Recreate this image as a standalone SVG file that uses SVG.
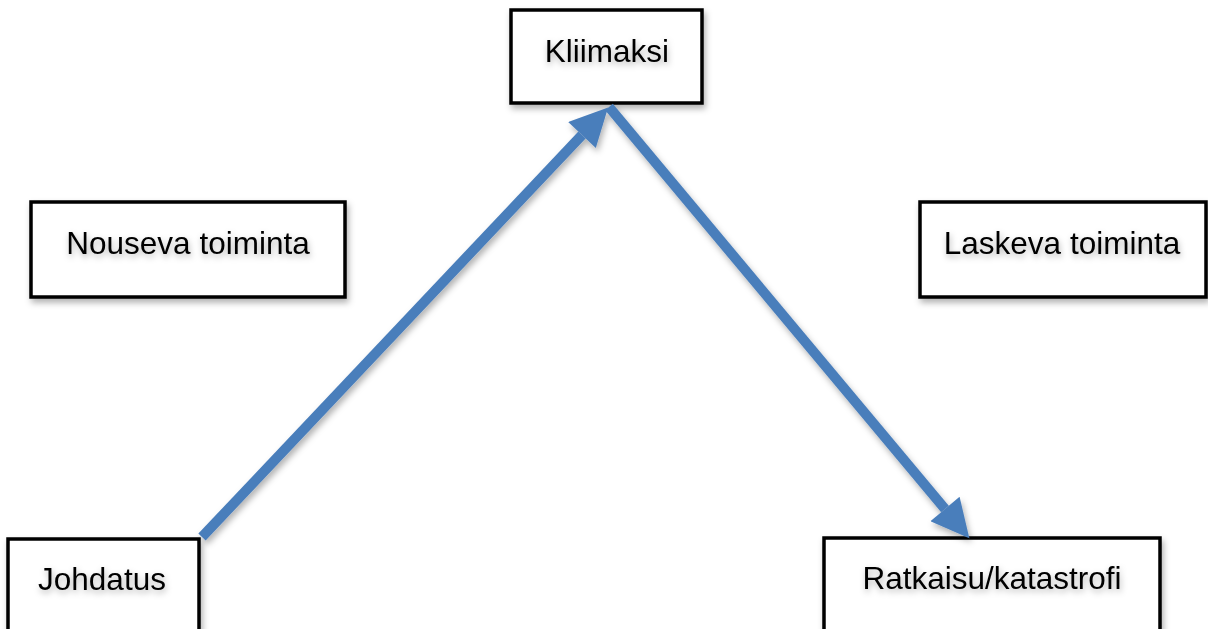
<svg xmlns="http://www.w3.org/2000/svg" width="1208" height="629" viewBox="0 0 1208 629">
<defs>
<style>
.box{fill:#ffffff;stroke:#000000;stroke-width:3.5}
.lbl{font-family:"Liberation Sans",Arial,sans-serif;font-size:31.5px;fill:#000000;text-anchor:middle}
.conn{stroke:#4a7ebb;stroke-width:10;fill:none}
</style>
<filter id="sh" x="-10%" y="-10%" width="130%" height="140%">
<feDropShadow dx="2" dy="4" stdDeviation="3" flood-color="#000" flood-opacity="0.3"/>
</filter>
<filter id="tsh" x="-10%" y="-30%" width="120%" height="180%">
<feDropShadow dx="1" dy="3" stdDeviation="3" flood-color="#000" flood-opacity="0.3"/>
</filter>
<marker id="ah" viewBox="0 0 10 10" refX="0" refY="5" markerWidth="4.3" markerHeight="3.8" markerUnits="strokeWidth" orient="auto">
<path d="M0,0 L10,5 L0,10 z" fill="#4a7ebb"/>
</marker>
</defs>
<rect width="1208" height="629" fill="#ffffff"/>
<g id="n-kliimaksi">
<rect class="box" x="511" y="10" width="191" height="93" filter="url(#sh)"/>
<text class="lbl" x="607" y="62" filter="url(#tsh)">Kliimaksi</text>
</g>
<g id="n-nouseva">
<rect class="box" x="31" y="202" width="314" height="95" filter="url(#sh)"/>
<text class="lbl" x="188" y="254" filter="url(#tsh)">Nouseva toiminta</text>
</g>
<g id="n-laskeva">
<rect class="box" x="920" y="202" width="286" height="95" filter="url(#sh)"/>
<text class="lbl" x="1062" y="254" filter="url(#tsh)">Laskeva toiminta</text>
</g>
<g id="n-johdatus">
<rect class="box" x="8" y="539" width="191" height="100" filter="url(#sh)"/>
<text class="lbl" x="102" y="590" filter="url(#tsh)">Johdatus</text>
</g>
<g id="n-ratkaisu">
<rect class="box" x="824" y="538" width="336" height="100" filter="url(#sh)"/>
<text class="lbl" x="992" y="589" filter="url(#tsh)">Ratkaisu/katastrofi</text>
</g>
<g id="connectors" filter="url(#sh)">
<line class="conn" x1="202" y1="537" x2="582" y2="135" marker-end="url(#ah)"/>
<line class="conn" x1="609" y1="107" x2="945" y2="509" marker-end="url(#ah)"/>
</g>
</svg>
